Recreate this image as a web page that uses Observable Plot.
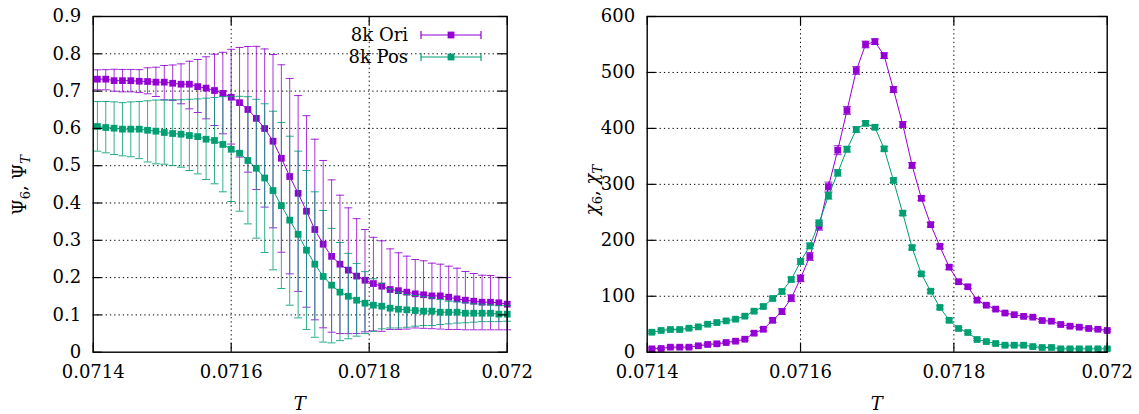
<!DOCTYPE html>
<html><head><meta charset="utf-8">
<script src="https://cdn.jsdelivr.net/npm/d3@7"></script>
<script src="https://cdn.jsdelivr.net/npm/@observablehq/plot@0.6"></script>
<style>
body{margin:0;background:#fff;}
#wrap{position:relative;width:1139px;height:414px;overflow:hidden;font-family:'DejaVu Serif',serif;}
#left,#right{position:absolute;top:0;}
#left{left:0}
#right{left:569px}
svg text{font-family:'DejaVu Serif',serif;}
</style></head><body><div id="wrap"><div id="left"></div><div id="right"></div></div>
<script>
// ---------- data ----------
const T = [0.0714061,0.0714182,0.0714303,0.0714424,0.0714545,0.0714667,0.0714788,0.0714909,0.0715030,0.0715152,
0.0715273,0.0715394,0.0715515,0.0715636,0.0715758,0.0715879,0.0716000,0.0716121,0.0716242,0.0716364,
0.0716485,0.0716606,0.0716727,0.0716848,0.0716970,0.0717091,0.0717212,0.0717333,0.0717455,0.0717576,
0.0717697,0.0717818,0.0717939,0.0718061,0.0718182,0.0718303,0.0718424,0.0718545,0.0718667,0.0718788,
0.0718909,0.0719030,0.0719152,0.0719273,0.0719394,0.0719515,0.0719636,0.0719758,0.0719879,0.0720000];

const oriPsi = [0.732,0.732,0.728,0.728,0.728,0.7265,0.7257,0.724,0.724,0.721,
0.7185,0.7185,0.712,0.708,0.7016,0.694,0.6836,0.669,0.6507,0.627,
0.5997,0.5657,0.52,0.471,0.426,0.378,0.329,0.2895,0.257,0.236,
0.22,0.204,0.193,0.184,0.177,0.168,0.165,0.161,0.1566,0.154,
0.151,0.151,0.1475,0.143,0.1395,0.1367,0.134,0.134,0.1325,0.1287];
const oriPsiHi = [0.757,0.7575,0.7585,0.758,0.758,0.7575,0.7625,0.764,0.7686,0.770,
0.773,0.780,0.7847,0.792,0.799,0.804,0.812,0.817,0.8196,0.820,
0.813,0.798,0.7705,0.734,0.688,0.634,0.571,0.514,0.462,0.421,
0.387,0.358,0.329,0.308,0.2986,0.277,0.2665,0.2575,0.2485,0.245,
0.2387,0.236,0.2306,0.2252,0.2163,0.211,0.2064,0.2056,0.201,0.2003];
const oriPsiLo = [0.7035,0.7035,0.6997,0.698,0.698,0.696,0.6928,0.6855,0.6767,0.675,
0.666,0.6525,0.6426,0.6257,0.6078,0.5855,0.558,0.523,0.4826,0.436,
0.389,0.3335,0.268,0.21,0.163,0.1206,0.0868,0.0654,0.0536,0.050,
0.0497,0.0503,0.0547,0.057,0.056,0.061,0.061,0.062,0.065,0.064,
0.063,0.062,0.061,0.061,0.060,0.060,0.060,0.060,0.060,0.060];

const posPsi = [0.605,0.6024,0.6005,0.598,0.598,0.598,0.595,0.5925,0.589,0.5863,
0.5845,0.581,0.578,0.571,0.5676,0.557,0.544,0.5335,0.514,0.493,
0.467,0.4335,0.393,0.354,0.316,0.2735,0.236,0.203,0.1797,0.161,
0.150,0.1394,0.1314,0.126,0.1233,0.118,0.1153,0.1136,0.1117,0.110,
0.110,0.1072,0.1072,0.1072,0.1045,0.1045,0.1045,0.1045,0.102,0.102];
const posPsiHi = [0.672,0.672,0.671,0.669,0.671,0.672,0.674,0.676,0.676,0.677,
0.677,0.678,0.679,0.681,0.683,0.685,0.686,0.686,0.685,0.678,
0.666,0.646,0.616,0.579,0.539,0.487,0.430,0.380,0.332,0.294,
0.265,0.238,0.216,0.197,0.185,0.170,0.161,0.1546,0.152,0.149,
0.1458,0.141,0.1367,0.135,0.1325,0.1298,0.1287,0.127,0.125,0.125];
const posPsiLo = [0.539,0.5345,0.530,0.5265,0.524,0.519,0.510,0.505,0.504,0.5005,
0.496,0.487,0.478,0.463,0.4515,0.430,0.404,0.378,0.344,0.3057,
0.2673,0.2209,0.1708,0.126,0.092,0.061,0.040,0.027,0.025,0.031,
0.036,0.043,0.050,0.056,0.0627,0.065,0.065,0.067,0.0697,0.0715,
0.0715,0.0743,0.076,0.078,0.079,0.0805,0.082,0.082,0.082,0.083];

const oriChi = [6,6.6,9,9,9,11.4,13.8,15,17.3,19.7,
23.2,34,41,57,72.7,96.5,132,171,225,296,
361,432,503.5,550,555,530,469.5,407,334,275,
228,189,152,126,117,93,84,77,70,67,
64,62.6,56.6,55.4,49.5,46.5,44.7,42.4,41,38.8];
const oriChiErr = [2,2,2,2,2,2,2,2,2,2,
2,3,3,4,5,6,6,7,7,8,
8,7,7,6,5,5,5,5,5,4,
4,4,4,3,3,3,2,2,2,2,
2,2,2,2,2,2,2,2,2,2];
const posChi = [35.7,38.8,40.5,40.5,42.9,45.3,50,53,56,59,
64.4,73.3,81.7,96,108.5,130,162,190,231,279.5,
320.6,362.8,398,409,402,363.5,307,248.5,187,140,
109,80,57,42.4,35.2,22.7,19,15.5,12.5,12.5,
12.5,10,8.4,8.4,6,6,6,6,6,6];
const posChiErr = [2,2,2,2,2,2,2,2,2,2,
2,2,3,3,4,4,5,5,5,6,
6,5,5,4,4,4,4,4,4,3,
3,3,3,2,2,2,2,2,2,2,
2,2,2,2,2,2,2,2,2,2];

const xTicks = [0.0714,0.0716,0.0718,0.072];
const xTickLabels = ["0.0714","0.0716","0.0718","0.072"];
const psiTicks = [0,0.1,0.2,0.3,0.4,0.5,0.6,0.7,0.8,0.9];
const psiTickLabels = ["0","0.1","0.2","0.3","0.4","0.5","0.6","0.7","0.8","0.9"];
const chiTicks = [0,100,200,300,400,500,600];
const chiTickLabels = ["0","100","200","300","400","500","600"];
const seriesNames = ["8k Ori","8k Pos"];
const colors = ["#9400d3","#009e73"];

// ---------- drawing ----------
const FONT = "'DejaVu Serif', serif";
const FS = 18;
const cap = {draw(ctx, size){const w = Math.sqrt(size/Math.PI); ctx.moveTo(-w,0); ctx.lineTo(w,0);}};

function rows(v, lo, hi){ return T.map((t,i)=>({T:t, v:v[i], lo:lo[i], hi:hi[i]})); }

function panel({width, ml, mr, yDomain, yTicks, yLabels, series}) {
  const H = 414, mt = 16, mb = 62.3;
  const ih = H - mt - mb, iw = width - ml - mr;
  const marks = [
    Plot.gridX(xTicks.slice(1,-1), {stroke:"black", strokeOpacity:1, strokeWidth:1, strokeDasharray:"1.3,3"}),
    Plot.gridY(yTicks.slice(1,-1), {stroke:"black", strokeOpacity:1, strokeWidth:1, strokeDasharray:"1.3,3"})
  ];
  series.forEach((s,k)=>{
    marks.push(Plot.ruleX(s.data, {x:"T", y1:"lo", y2:"hi", stroke:colors[k], strokeWidth:1, strokeOpacity:0.8}));
    marks.push(Plot.dot(s.data, {x:"T", y:"hi", symbol:cap, r:4, stroke:colors[k], fill:"none", strokeWidth:1, strokeOpacity:0.85}));
    marks.push(Plot.dot(s.data, {x:"T", y:"lo", symbol:cap, r:4, stroke:colors[k], fill:"none", strokeWidth:1, strokeOpacity:0.85}));
    marks.push(Plot.line(s.data, {x:"T", y:"v", stroke:colors[k], strokeWidth:1}));
    marks.push(Plot.dot(s.data, {x:"T", y:"v", symbol:"square", r:3.8, fill:colors[k], stroke:"none"}));
  });
  marks.push(
    Plot.tickX(xTicks, {x:d=>d, insetTop: ih-9, stroke:"black", strokeWidth:1.2}),
    Plot.tickX(xTicks, {x:d=>d, insetBottom: ih-9, stroke:"black", strokeWidth:1.2}),
    Plot.tickY(yTicks, {y:d=>d, insetRight: iw-9, stroke:"black", strokeWidth:1.2}),
    Plot.tickY(yTicks, {y:d=>d, insetLeft: iw-9, stroke:"black", strokeWidth:1.2}),
    Plot.frame({stroke:"black", strokeWidth:1.4}),
    Plot.axisX({ticks:xTicks, tickSize:0, tickPadding:13, tickFormat:(d,i)=>xTickLabels[i], fontSize:FS, label:null}),
    Plot.axisY({ticks:yTicks, tickSize:0, tickPadding:12, tickFormat:(d,i)=>yLabels[i], fontSize:FS, label:null})
  );
  return Plot.plot({
    width, height:H, marginLeft:ml, marginRight:mr, marginTop:mt, marginBottom:mb,
    x:{domain:[0.0714,0.072]}, y:{domain:yDomain},
    style:{fontFamily:FONT, fontSize:FS+"px", color:"black", background:"white", overflow:"visible"},
    marks
  });
}

const leftPlot = panel({width:569, ml:92.7, mr:62.3, yDomain:[0,0.9], yTicks:psiTicks, yLabels:psiTickLabels,
  series:[{data:rows(oriPsi,oriPsiLo,oriPsiHi)},{data:rows(posPsi,posPsiLo,posPsiHi)}]});
const rightPlot = panel({width:570, ml:77.7, mr:32.3, yDomain:[0,600], yTicks:chiTicks, yLabels:chiTickLabels,
  series:[{data:rows(oriChi, oriChi.map((v,i)=>v-oriChiErr[i]), oriChi.map((v,i)=>v+oriChiErr[i]))},
          {data:rows(posChi, posChi.map((v,i)=>v-posChiErr[i]), posChi.map((v,i)=>v+posChiErr[i]))}]});
document.getElementById("left").appendChild(leftPlot);
document.getElementById("right").appendChild(rightPlot);

function addTitles(svg, xCenter, yLabX, yLabY, parts) {
  const s = d3.select(svg);
  s.append("text").attr("x", xCenter).attr("y", 410).attr("text-anchor","middle")
    .style("font-family", FONT).attr("font-size", FS).attr("font-style","italic").text("T");
  const t = s.append("text").attr("transform", `translate(${yLabX},${yLabY}) rotate(-90)`)
    .attr("text-anchor","middle").style("font-family", FONT).attr("font-size", FS);
  parts.forEach(p=>{
    const ts = t.append("tspan").text(p.t);
    if (p.dy) ts.attr("dy", p.dy);
    if (p.fs) ts.attr("font-size", p.fs);
    if (p.it) ts.attr("font-style","italic");
  });
}
addTitles(leftPlot, 299.7, 26, 185, [
  {t:"Ψ"},{t:"6", dy:4, fs:13},{t:", Ψ", dy:-4},{t:"T", dy:4, fs:13, it:true}]);
addTitles(rightPlot, 307.7, 29, 190, [
  {t:"χ", it:true},{t:"6", dy:4, fs:13},{t:",\u00a0", dy:-4},{t:"χ", it:true},{t:"T", dy:4, fs:13, it:true}]);

// legend (inside left panel, top right)
const lg = d3.select(leftPlot).append("g");
seriesNames.forEach((name,k)=>{
  const y = 35 + k*22;
  lg.append("text").attr("x", 408).attr("y", y).attr("dy","0.35em").attr("text-anchor","end")
    .style("font-family", FONT).attr("font-size", FS).text(name);
  lg.append("line").attr("x1",421).attr("x2",481).attr("y1",y).attr("y2",y).attr("stroke",colors[k]).attr("stroke-width",1.2);
  lg.append("line").attr("x1",421).attr("x2",421).attr("y1",y-4).attr("y2",y+4).attr("stroke",colors[k]).attr("stroke-width",1.2);
  lg.append("line").attr("x1",481).attr("x2",481).attr("y1",y-4).attr("y2",y+4).attr("stroke",colors[k]).attr("stroke-width",1.2);
  lg.append("rect").attr("x",451-3.4).attr("y",y-3.4).attr("width",6.8).attr("height",6.8).attr("fill",colors[k]);
});
</script></body></html>
